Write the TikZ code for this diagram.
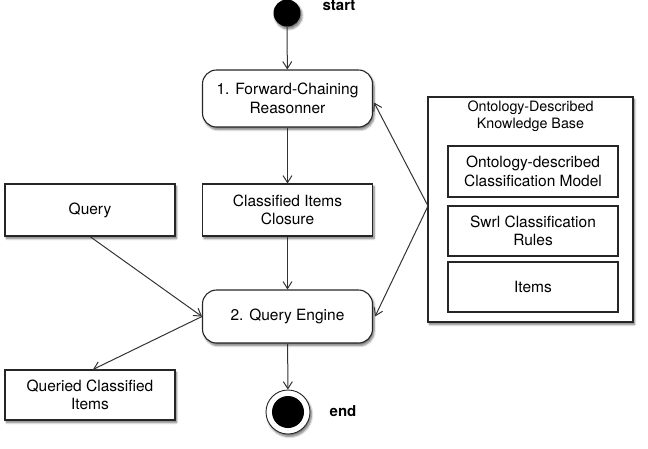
\documentclass[tikz,border=0pt]{standalone}
\usepackage{fontspec}
\setmainfont{TeX Gyre Heros}
\usetikzlibrary{arrows.meta,shadows.blur,calc}
\begin{document}
\begin{tikzpicture}[x=1pt,y=-1pt,
  font=\fontsize{15.5}{18.5}\selectfont,
  shad/.style={blur shadow={shadow xshift=1.5pt,shadow yshift=-2.5pt,shadow blur steps=6,shadow opacity=55}},
  actbox/.style={draw=black!85,line width=1.1pt,fill=white,rounded corners=14pt,minimum width=170pt,minimum height=57pt,align=center,shad},
  objbox/.style={draw=black!85,line width=1.1pt,fill=white,minimum width=170pt,minimum height=52pt,align=center,shad},
  inbox/.style={draw=black!85,line width=1.1pt,fill=white,minimum width=170pt,minimum height=50pt,align=center},
  flow/.style={draw=black!80,line width=1pt,-{Straight Barb[length=7pt,width=9pt]}},
  lbl/.style={font=\fontsize{15}{18}\selectfont\bfseries}]
\useasboundingbox (0,0) rectangle (648,448);
\node[circle,fill=black,minimum size=27pt,inner sep=0pt,shad] (start) at (287,13) {};
\node[lbl] (startlbl) at (339,6) {start};
\node[actbox] (fc) at (287.5,98.5) {1. Forward-Chaining\\Reasonner};
\node[objbox] (cic) at (287.5,210) {Classified Items\\Closure};
\node[objbox] (query) at (90,210) {Query};
\node[actbox,minimum height=53pt] (qe) at (287.5,316.5) {2. Query Engine};
\node[objbox,minimum height=50pt] (qci) at (90,395) {Queried Classified\\Items};
\node[circle,draw=black!85,line width=0.9pt,fill=white,minimum size=44pt,inner sep=0pt,shad] (endo) at (288,412) {};
\node[circle,fill=black,minimum size=32pt,inner sep=0pt] (endi) at (endo) {};
\node[lbl] (endlbl) at (343,411) {end};
\node[draw=black!85,line width=1.1pt,fill=white,minimum width=205pt,minimum height=225pt,shad] (kb) at (530.5,209.5) {};
\node[font=\fontsize{14.3}{17.3}\selectfont,align=center] (kbt) at (530.5,116) {Ontology-Described\\Knowledge Base};
\node[inbox,minimum height=51pt] (m1) at (533,171.5) {Ontology-described\\Classification Model};
\node[inbox] (m2) at (533,231) {Swrl Classification\\Rules};
\node[inbox] (m3) at (533,287) {Items};
\coordinate (kbw) at (428,206);
\path[flow] (start) -- (fc);
\path[flow] (fc) -- (cic);
\path[flow] (cic) -- (qe);
\path[flow] (qe) -- (endo);
\path[flow] (query.south) -- (qe.west);
\path[flow] (qe.west) -- ($(qci.north)+(3,0)$);
\path[flow] (kbw) -- ($(fc.east)+(1,4)$);
\path[flow] (kbw) -- ($(qe.east)+(2,0)$);
\end{tikzpicture}
\end{document}
